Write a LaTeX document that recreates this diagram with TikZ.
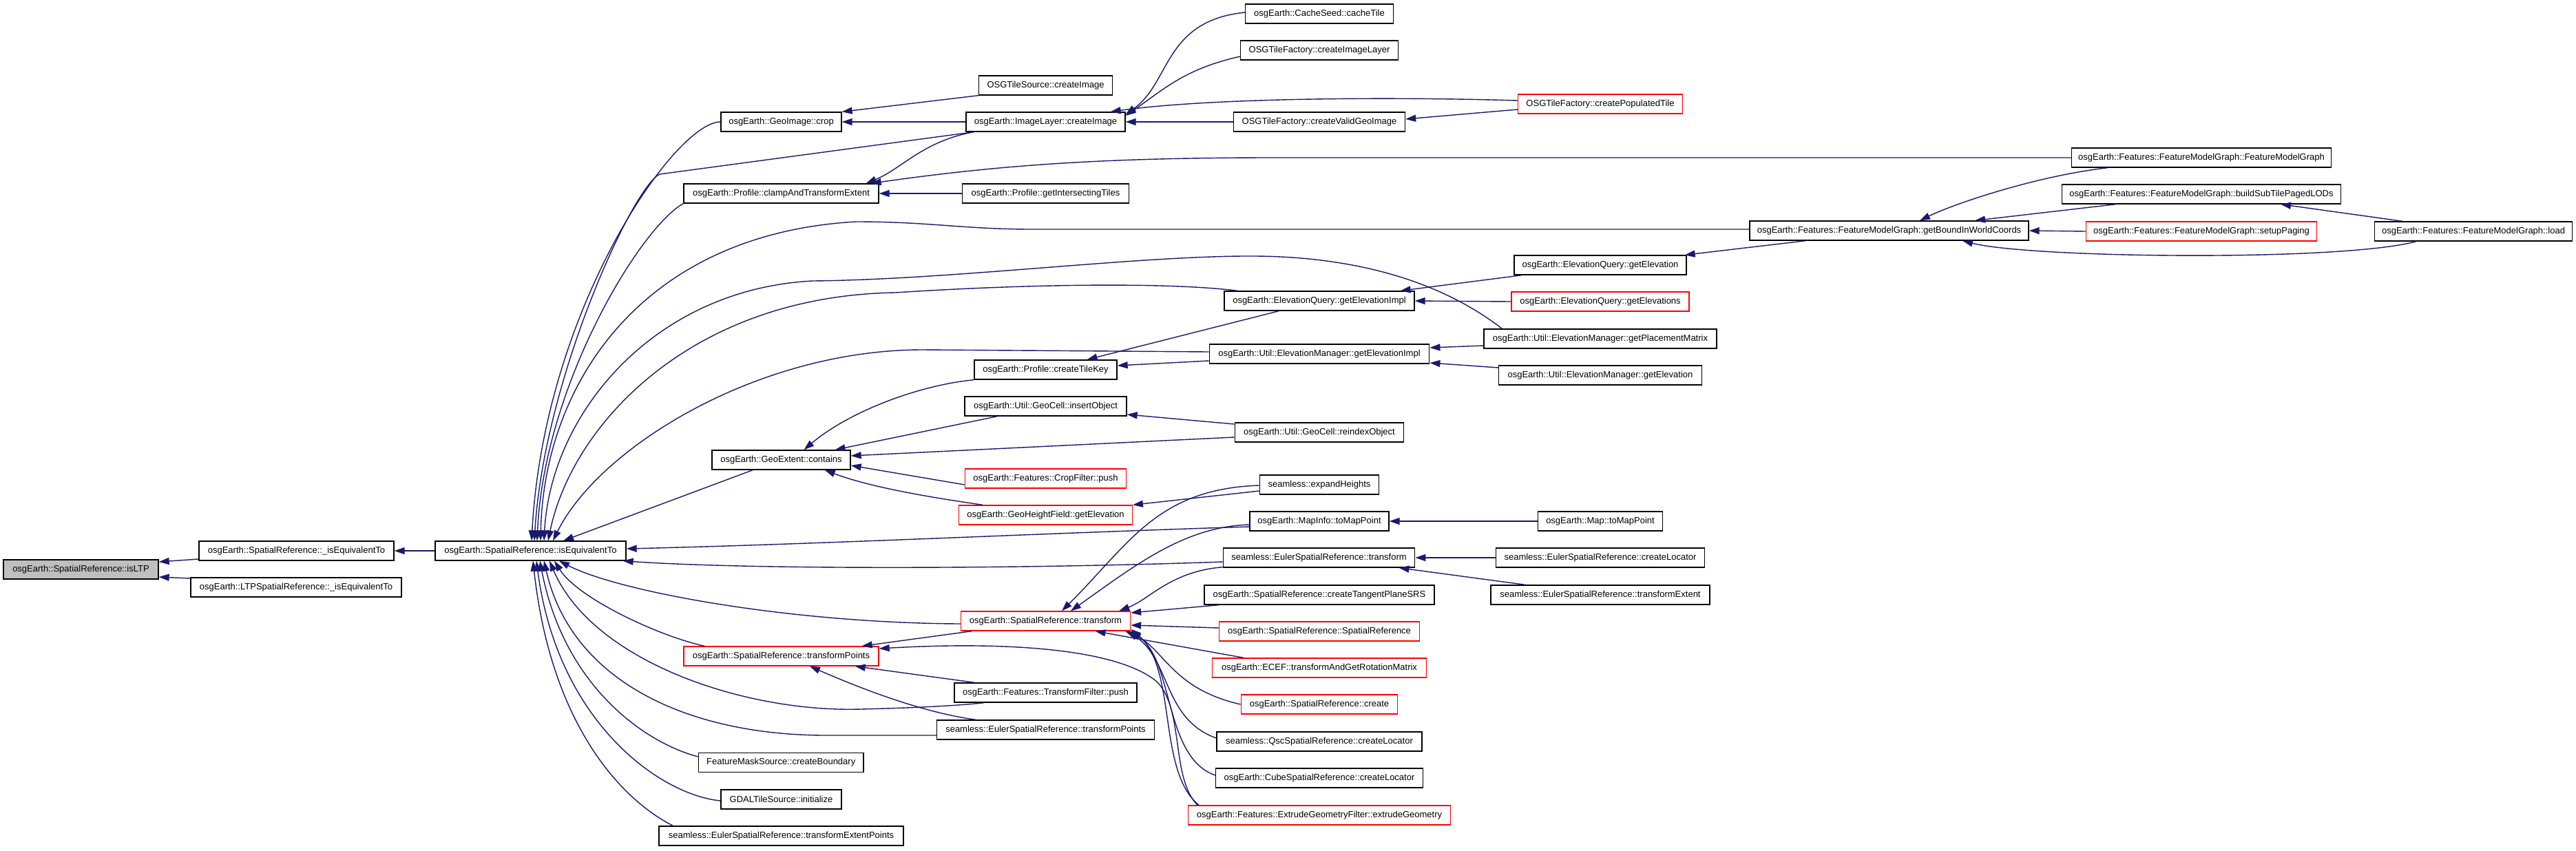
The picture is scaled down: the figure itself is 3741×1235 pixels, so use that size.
\documentclass[tikz,border=0pt]{standalone}
\usepackage{fontspec}
\setmainfont{Liberation Sans}
\usetikzlibrary{arrows.meta}
\definecolor{edgecol}{HTML}{191970}
\definecolor{rootfill}{HTML}{BFBFBF}
\definecolor{redline}{HTML}{FF0000}
\begin{document}
\begin{tikzpicture}[x=1pt,y=-1pt,
  fn/.style={draw=black, fill=white, line width=1.3pt, minimum height=28pt, minimum width=#1, inner xsep=1pt, inner ysep=1pt, font=\fontsize{13}{15}\selectfont},
  fnred/.style={fn=#1, draw=redline},
  fnroot/.style={fn=#1, fill=rootfill},
  callarrow/.style={draw=edgecol, line width=1.4pt, {Triangle[length=15pt,width=10pt]}-}
]
\fill[white] (0,0) rectangle (3741,1235);
\useasboundingbox (0,0) rectangle (3741,1235);

% column 1-3
\node[fnroot=225pt] (n0) at (117.5,827) {osgEarth::SpatialReference::isLTP};
\node[fn=283pt] (n1) at (430.5,800) {osgEarth::SpatialReference::\_isEquivalentTo};
\node[fn=306pt] (n2) at (430,853) {osgEarth::LTPSpatialReference::\_isEquivalentTo};
\node[fn=277pt] (n3) at (770.5,800) {osgEarth::SpatialReference::isEquivalentTo};

% column 4
\node[fn=175pt] (crop) at (1134.5,177) {osgEarth::GeoImage::crop};
\node[fn=283pt] (clamp) at (1134.5,281) {osgEarth::Profile::clampAndTransformExtent};
\node[fn=201pt] (contains) at (1134.5,668) {osgEarth::GeoExtent::contains};
\node[fnred=283pt] (tpoints) at (1134.5,953) {osgEarth::SpatialReference::transformPoints};
\node[fn=239.5pt] (boundary) at (1134.25,1107.5) {FeatureMaskSource::createBoundary};
\node[fn=175pt] (gdal) at (1134.5,1161) {GDALTileSource::initialize};
\node[fn=355pt] (tep) at (1134.5,1214) {seamless::EulerSpatialReference::transformExtentPoints};

% column 5
\node[fn=193.5pt] (osgts) at (1518.5,124) {OSGTileSource::createImage};
\node[fn=231pt] (imglayer) at (1518.5,177) {osgEarth::ImageLayer::createImage};
\node[fn=242pt] (inters) at (1518.5,281) {osgEarth::Profile::getIntersectingTiles};
\node[fn=207pt] (tilekey) at (1518.5,537) {osgEarth::Profile::createTileKey};
\node[fn=235pt] (insert) at (1518.5,590) {osgEarth::Util::GeoCell::insertObject};
\node[fnred=234.5pt] (cropf) at (1518.5,695) {osgEarth::Features::CropFilter::push};
\node[fnred=251.5pt] (ghf) at (1518.5,748) {osgEarth::GeoHeightField::getElevation};
\node[fnred=246pt] (transform) at (1518.5,902) {osgEarth::SpatialReference::transform};
\node[fn=265pt] (tfpush) at (1518.5,1006) {osgEarth::Features::TransformFilter::push};
\node[fn=316pt] (etp) at (1518.5,1060) {seamless::EulerSpatialReference::transformPoints};

% column 6
\node[fn=214.5pt] (cachetile) at (1916,20) {osgEarth::CacheSeed::cacheTile};
\node[fn=228.5pt] (cil) at (1916,73) {OSGTileFactory::createImageLayer};
\node[fn=249pt] (cvgi) at (1916,177) {OSGTileFactory::createValidGeoImage};
\node[fn=276pt] (eqgei) at (1916,437) {osgEarth::ElevationQuery::getElevationImpl};
\node[fn=319.5pt] (emgei) at (1916,514) {osgEarth::Util::ElevationManager::getElevationImpl};
\node[fn=245.5pt] (reindex) at (1916,628) {osgEarth::Util::GeoCell::reindexObject};
\node[fn=173.5pt] (expand) at (1916,704) {seamless::expandHeights};
\node[fn=202pt] (mapinfo) at (1916,757) {osgEarth::MapInfo::toMapPoint};
\node[fn=278.5pt] (etrans) at (1915.5,810) {seamless::EulerSpatialReference::transform};
\node[fn=334pt] (tangent) at (1916,864) {osgEarth::SpatialReference::createTangentPlaneSRS};
\node[fnred=291pt] (srsr) at (1916,917) {osgEarth::SpatialReference::SpatialReference};
\node[fnred=310.5pt] (ecef) at (1916,970) {osgEarth::ECEF::transformAndGetRotationMatrix};
\node[fnred=227.5pt] (create) at (1916,1023) {osgEarth::SpatialReference::create};
\node[fn=298pt] (qsc) at (1916,1077) {seamless::QscSpatialReference::createLocator};
\node[fn=301pt] (cube) at (1916,1130) {osgEarth::CubeSpatialReference::createLocator};
\node[fnred=380.5pt] (extrude) at (1916,1184) {osgEarth::Features::ExtrudeGeometryFilter::extrudeGeometry};

% column 7
\node[fnred=239pt] (cpt) at (2324,151) {OSGTileFactory::createPopulatedTile};
\node[fn=250pt] (eqge) at (2324,385) {osgEarth::ElevationQuery::getElevation};
\node[fnred=258pt] (eqges) at (2324,438) {osgEarth::ElevationQuery::getElevations};
\node[fn=338pt] (placement) at (2324,492) {osgEarth::Util::ElevationManager::getPlacementMatrix};
\node[fn=294.5pt] (emge) at (2324,545) {osgEarth::Util::ElevationManager::getElevation};
\node[fn=181.5pt] (maptomap) at (2324,757) {osgEarth::Map::toMapPoint};
\node[fn=303.5pt] (elocator) at (2324,810) {seamless::EulerSpatialReference::createLocator};
\node[fn=318pt] (etext) at (2324,864) {seamless::EulerSpatialReference::transformExtent};

% columns 8-10
\node[fn=405pt] (gbiwc) at (2743.5,335) {osgEarth::Features::FeatureModelGraph::getBoundInWorldCoords};
\node[fn=376.5pt] (fmg) at (3197,229) {osgEarth::Features::FeatureModelGraph::FeatureModelGraph};
\node[fn=405pt] (bstp) at (3197,282) {osgEarth::Features::FeatureModelGraph::buildSubTilePagedLODs};
\node[fnred=335pt] (setup) at (3197,336) {osgEarth::Features::FeatureModelGraph::setupPaging};
\node[fn=286.5pt] (load) at (3592,336) {osgEarth::Features::FeatureModelGraph::load};

% ---- edges (arrow at callee) ----
\draw[callarrow] ([yshift=11pt]n0.east) -- ([yshift=-12pt]n1.west);
\draw[callarrow] ([yshift=-11pt]n0.east) -- ([yshift=13pt]n2.west);
\draw[callarrow] (n1.east) -- (n3.west);

% into isEquivalentTo, from above
\draw[callarrow] ([xshift=1.5pt]n3.north) .. controls (790,450) and (980,177) .. (crop.west);
\draw[callarrow] ([xshift=5.5pt]n3.north) .. controls (790,550) and (920,270) .. (958,253) -- ([xshift=12pt]imglayer.south west);
\draw[callarrow] ([xshift=9.5pt]n3.north) .. controls (790,560) and (930,330) .. (clamp.south west);
\draw[callarrow] ([xshift=14.5pt]n3.north) .. controls (790,560) and (930,340) .. (1243,322) .. controls (1350,322) and (1400,333) .. (1500,333) -- ([yshift=2pt]gbiwc.west);
\draw[callarrow] ([xshift=19.5pt]n3.north) .. controls (800,600) and (950,420) .. (1180,408) .. controls (1400,406) and (1700,365) .. (1860,373) .. controls (2020,381) and (2120,430) .. ([xshift=27pt]placement.north west);
\draw[callarrow] ([xshift=25.5pt]n3.north) .. controls (830,620) and (1000,430) .. (1300,425) .. controls (1500,412) and (1700,410) .. ([xshift=20pt]eqgei.north west);
\draw[callarrow] ([xshift=32.5pt]n3.north) .. controls (870,650) and (1100,508) .. (1340,508) -- ([yshift=3pt]emgei.west);
\draw[callarrow] ([xshift=47.5pt]n3.north) -- ([xshift=60pt]contains.south west);
% from the right
\draw[callarrow] ([yshift=3pt]n3.east) .. controls (1200,790) and (1500,775) .. ([yshift=-8pt]mapinfo.west);
\draw[callarrow] ([xshift=-5pt]n3.south east) .. controls (1100,828) and (1500,826) .. ([yshift=-6pt]etrans.west);
% from below
\draw[callarrow] ([xshift=41.5pt]n3.south) .. controls (900,860) and (1150,905) .. ([yshift=-4pt]transform.west);
\draw[callarrow] ([xshift=34.5pt]n3.south) .. controls (840,870) and (960,925) .. ([xshift=31pt]tpoints.north west);
\draw[callarrow] ([xshift=27.5pt]n3.south) .. controls (860,960) and (1080,1035) .. (1250,1030) .. controls (1330,1028) and (1390,1025) .. ([xshift=44pt]tfpush.south west);
\draw[callarrow] ([xshift=19.5pt]n3.south) .. controls (830,990) and (1000,1068) .. (1200,1068) -- ([yshift=-8pt]etp.west);
\draw[callarrow] ([xshift=13.5pt]n3.south) .. controls (820,1000) and (940,1080) .. ([yshift=8.5pt]boundary.west);
\draw[callarrow] ([xshift=8.5pt]n3.south) .. controls (810,1050) and (960,1155) .. ([yshift=-2pt]gdal.west);
\draw[callarrow] ([xshift=3.5pt]n3.south) .. controls (800,1050) and (900,1160) .. ([xshift=21pt]tep.north west);

% column 4 <- column 5+
\draw[callarrow] (crop.east) -- (imglayer.west);
\draw[callarrow] (crop.north east) -- (osgts.south west);
\draw[callarrow] ([xshift=-19pt]clamp.north east) .. controls (1310,245) and (1340,205) .. ([xshift=12pt]imglayer.south west);
\draw[callarrow] (clamp.east) -- (inters.west);
\draw[callarrow] ([xshift=-12pt]clamp.north east) .. controls (1450,240) and (1600,229) .. (1850,229) -- (fmg.west);

\draw[callarrow] ([yshift=11pt]imglayer.east) .. controls (1700,120) and (1690,30) .. ([yshift=2pt]cachetile.west);
\draw[callarrow] ([yshift=9pt]imglayer.east) .. controls (1690,130) and (1720,100) .. ([yshift=-9pt]cil.west);
\draw[callarrow] ([xshift=-22pt]imglayer.north east) .. controls (1750,143) and (2000,140) .. ([yshift=5pt]cpt.west);
\draw[callarrow] (imglayer.east) -- (cvgi.west);
\draw[callarrow] ([yshift=4pt]cvgi.east) -- ([yshift=-8pt]cpt.west);

\draw[callarrow] ([xshift=33pt]contains.north) .. controls (1230,600) and (1330,560) .. (tilekey.south west);
\draw[callarrow] ([xshift=78pt]contains.north) -- ([xshift=48pt]insert.south west);
\draw[callarrow] ([yshift=6pt]contains.east) -- ([yshift=-7pt]reindex.west);
\draw[callarrow] ([yshift=-8pt]contains.east) -- ([yshift=-9pt]cropf.west);
\draw[callarrow] ([xshift=-38pt]contains.south east) .. controls (1270,710) and (1370,725) .. ([xshift=35pt]ghf.north west);

\draw[callarrow] ([xshift=60pt]tilekey.north) -- ([xshift=80pt]eqgei.south west);
\draw[callarrow] ([yshift=6pt]tilekey.east) -- ([yshift=-10pt]emgei.west);
\draw[callarrow] ([yshift=-12pt]insert.east) -- ([yshift=12pt]reindex.west);
\draw[callarrow] (ghf.north east) -- ([yshift=-9pt]expand.west);

\draw[callarrow] ([xshift=-21pt]eqgei.north east) -- ([xshift=12pt]eqge.south west);
\draw[callarrow] (eqgei.east) -- (eqges.west);
\draw[callarrow] ([yshift=9pt]emgei.east) -- ([yshift=-10pt]placement.west);
\draw[callarrow] ([yshift=-13pt]emgei.east) -- ([yshift=11pt]emge.west);
\draw[callarrow] ([xshift=-3pt]eqge.north east) -- ([xshift=82pt]gbiwc.south west);

\draw[callarrow] ([xshift=44.5pt]gbiwc.north) .. controls (2840,295) and (2960,255) .. ([xshift=53pt]fmg.south west);
\draw[callarrow] ([xshift=124.5pt]gbiwc.north) -- ([xshift=79pt]bstp.south west);
\draw[callarrow] (gbiwc.east) -- (setup.west);
\draw[callarrow] ([xshift=106.5pt]gbiwc.south) .. controls (2950,375) and (3400,380) .. ([xshift=61pt]load.south west);
\draw[callarrow] ([xshift=115pt]bstp.south) -- ([xshift=41pt]load.north west);

% into SpatialReference::transform
\draw[callarrow] ([xshift=23.5pt]transform.north) .. controls (1640,790) and (1680,710) .. ([yshift=-1pt]expand.west);
\draw[callarrow] ([xshift=36.5pt]transform.north) .. controls (1650,820) and (1720,765) .. ([yshift=-5pt]mapinfo.west);
\draw[callarrow] ([xshift=-17pt]transform.north east) .. controls (1670,870) and (1700,830) .. ([yshift=1pt]etrans.south west);
\draw[callarrow] ([yshift=12pt]transform.east) -- ([xshift=22pt]tangent.south west);
\draw[callarrow] ([yshift=-6pt]transform.east) -- ([yshift=5pt]srsr.west);
\draw[callarrow] ([xshift=72pt]transform.south) -- ([xshift=46pt]ecef.north west);
\draw[callarrow] ([xshift=-8pt]transform.south east) .. controls (1690,940) and (1700,1000) .. (create.west);
\draw[callarrow] ([xshift=-4pt]transform.south east) .. controls (1700,960) and (1690,1045) .. ([yshift=5pt]qsc.west);
\draw[callarrow] (transform.south east) .. controls (1705,960) and (1690,1100) .. ([yshift=4pt]cube.west);
\draw[callarrow] ([yshift=3pt]transform.south east) .. controls (1710,970) and (1680,1120) .. ([xshift=16pt]extrude.north west);

% into transformPoints
\draw[callarrow] ([xshift=-25pt]tpoints.north east) -- ([xshift=16.5pt]transform.south west);
\draw[callarrow] ([yshift=11pt]tpoints.east) .. controls (1450,932) and (1620,940) .. (1680,990) .. controls (1720,1030) and (1700,1130) .. ([xshift=14pt]extrude.north west);
\draw[callarrow] ([xshift=-35pt]tpoints.south east) -- ([xshift=30pt]tfpush.north west);
\draw[callarrow] ([xshift=41.5pt]tpoints.south) .. controls (1250,1000) and (1340,1035) .. ([xshift=57.5pt]etp.north west);

% others
\draw[callarrow] (mapinfo.east) -- (maptomap.west);
\draw[callarrow] (etrans.east) -- (elocator.west);
\draw[callarrow] ([xshift=-24pt]etrans.south east) -- ([xshift=51pt]etext.north west);
\end{tikzpicture}
\end{document}
